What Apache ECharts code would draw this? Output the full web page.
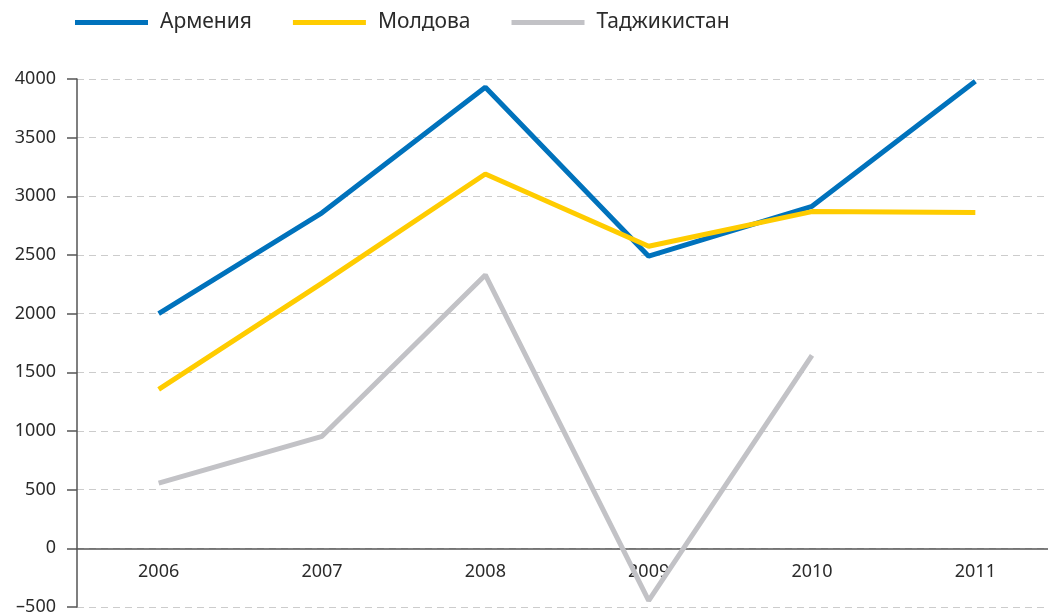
<!DOCTYPE html>
<html>
<head>
<meta charset="utf-8">
<script src="https://cdn.jsdelivr.net/npm/echarts@6/dist/echarts.min.js"></script>
<style>
  html, body { margin: 0; padding: 0; background: #fff; }
  #chart { width: 1048px; height: 613px; }
</style>
</head>
<body>
<div id="chart"></div>
<script>
  // данные
  var years = ['2006', '2007', '2008', '2009', '2010', '2011']
  var armenia = [2000, 2860, 3930, 2490, 2915, 3980]
  var moldova = [1355, 2260, 3190, 2575, 2870, 2862]
  var tajikistan = [555, 955, 2330, -445, 1645, null]

  var myChart = echarts.init(document.getElementById('chart'))
  var font = '"Noto Sans", "DejaVu Sans", sans-serif'

  var option = {
    animation: false,
    textStyle: { fontFamily: font },
    legend: {
      top: 7,
      left: 70,
      itemWidth: 73,
      itemHeight: 5,
      itemGap: 41,
      icon: 'rect',
      textStyle: { fontSize: 21, color: '#2b2b2b', fontFamily: font, padding: [0, 0, 0, 7] },
      data: ['Армения', 'Молдова', 'Таджикистан']
    },
    grid: { left: 77, top: 79, width: 980, height: 528, containLabel: false, outerBoundsMode: 'none' },
    xAxis: {
      type: 'category',
      data: years,
      boundaryGap: true,
      axisLine: { onZero: true, lineStyle: { color: '#555', width: 1.5 } },
      axisTick: { show: false },
      // подписи под нулевой линией
      axisLabel: { fontSize: 18, color: '#2b2b2b', margin: -44 }
    },
    yAxis: {
      type: 'value',
      min: -500,
      max: 4000,
      interval: 500,
      axisLine: { show: true, lineStyle: { color: '#555', width: 1.5 } },
      axisTick: { show: true, length: 10, lineStyle: { color: '#555', width: 1.5 } },
      axisLabel: {
        fontSize: 18, color: '#2b2b2b', margin: 21,
        formatter: function (v) { return v < 0 ? '–' + Math.abs(v) : String(v) }
      },
      splitLine: { lineStyle: { color: '#cccccc', type: [7, 5] } }
    },
    series: [
      {
        name: 'Армения', type: 'line', data: armenia,
        symbol: 'none', color: '#0072bc',
        lineStyle: { width: 5, color: '#0072bc' }
      },
      {
        name: 'Молдова', type: 'line', data: moldova,
        symbol: 'none', color: '#ffcc00',
        lineStyle: { width: 5, color: '#ffcc00' }
      },
      {
        name: 'Таджикистан', type: 'line', data: tajikistan,
        symbol: 'none', color: '#c2c2c6',
        lineStyle: { width: 5, color: '#c2c2c6' }
      }
    ]
  }
  option && myChart.setOption(option)
</script>
</body>
</html>
